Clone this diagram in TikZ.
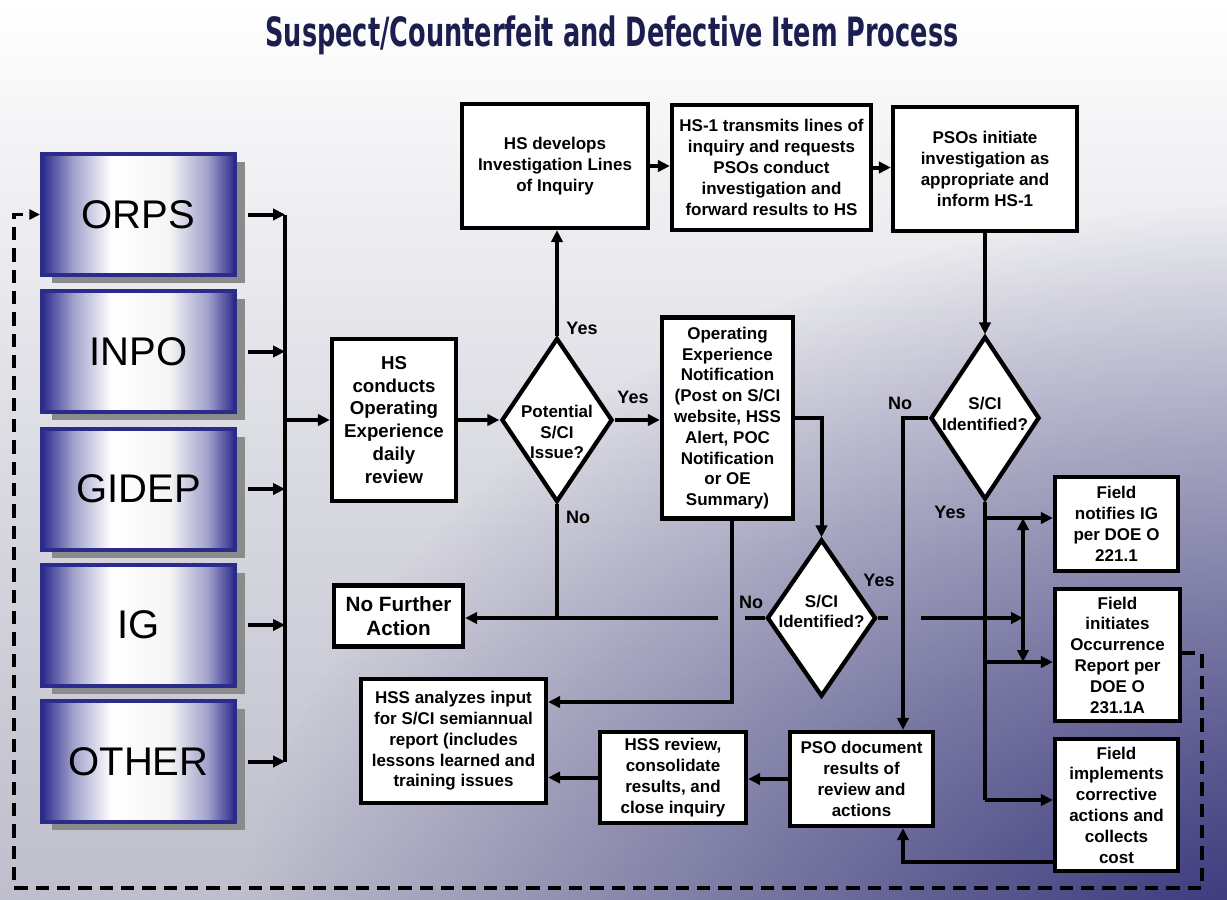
\documentclass[tikz,border=0pt]{standalone}
\usepackage{fontspec}
\usepackage{graphicx}
\setmainfont{Liberation Sans}
\newfontfamily\titlefamily{DejaVu Sans}
\usetikzlibrary{shapes.geometric,arrows.meta,shadows,fadings}

\definecolor{titlenavy}{HTML}{1B1E4F}
\definecolor{srcnavy}{HTML}{2B2B8C}
\definecolor{bgnavy}{HTML}{2A2872}
\definecolor{bggray}{HTML}{BEBECC}
\definecolor{shadowgray}{HTML}{8A8C8C}

\newcommand{\boxfont}{\fontsize{12.75}{15.6}\selectfont\bfseries}
\newcommand{\srcfont}{\fontsize{30}{36}\selectfont}
\newcommand{\tagfont}{\fontsize{13.5}{16}\selectfont\bfseries}

\tikzfading[name=cornerfade, inner color=transparent!0, outer color=transparent!100]
\pgfdeclarehorizontalshading{srcshade}{100bp}{color(0bp)=(srcnavy); color(25bp)=(srcnavy);
  color(33bp)=(srcnavy!45!white); color(43bp)=(white); color(58bp)=(white!92!gray);
  color(68bp)=(srcnavy!45!white); color(75bp)=(srcnavy); color(100bp)=(srcnavy)}

\tikzset{
  stepbox/.style={draw, line width=3.2pt, fill=white, align=center, font=\boxfont, inner sep=1pt},
  decision/.style={diamond, draw, line width=3.2pt, fill=white, inner sep=0pt},
  decisiontext/.style={font=\boxfont, align=center, inner sep=0pt},
  srcbox/.style={draw=srcnavy, line width=3pt, shading=srcshade,
    minimum width=144.75pt, minimum height=90.75pt, font=\srcfont,
    drop shadow={shadow xshift=7.5pt, shadow yshift=-6pt, fill=shadowgray, opacity=1}},
  flow/.style={line width=3pt, -{Triangle[length=9pt,width=8.5pt]}},
  wire/.style={line width=3pt},
  twoway/.style={line width=3pt, {Triangle[length=9pt,width=8.5pt]}-{Triangle[length=9pt,width=8.5pt]}},
  feedback/.style={line width=2.8pt, dash pattern=on 10pt off 6pt, -{Triangle[length=8pt,width=7.5pt]}},
  yesno/.style={font=\tagfont, inner sep=0pt},
}

\begin{document}
\begin{tikzpicture}[x=0.75pt,y=-0.75pt]
  \useasboundingbox (0,0) rectangle (1227,899);
  % background
  \shade[top color=white, bottom color=bggray, middle color=bggray!55!white] (0,0) rectangle (1227,899);
  \begin{scope}
    \clip (0,0) rectangle (1227,899);
    \fill[bgnavy, path fading=cornerfade] (1300,1000) ellipse[x radius=800pt, y radius=600pt];
  \end{scope}

  \node[text=titlenavy, anchor=base] (title) at (612,47)
    {\resizebox{519.75pt}{23pt}{\titlefamily\bfseries Suspect/Counterfeit and Defective Item Process}};

  % sources
  \node[srcbox] (orps) at (138.5,214.5) {ORPS};
  \node[srcbox] (inpo) at (138.5,351.5) {INPO};
  \node[srcbox] (gidep) at (138.5,489) {GIDEP};
  \node[srcbox] (ig) at (138.5,625) {IG};
  \node[srcbox] (other) at (138.5,761.5) {OTHER};
  \coordinate (bustop) at (285,214.5);
  \coordinate (busbot) at (285,761.5);

  % process steps
  \node[stepbox, minimum width=93pt, minimum height=121.5pt, font=\fontsize{14}{17.2}\selectfont\bfseries]
    (review) at (394,420) {HS\\conducts\\Operating\\Experience\\daily\\review};
  \node[decision, minimum width=83.25pt, minimum height=123pt] (issue) at (557,420) {};
  \node[decisiontext] (issue-text) at (557,432) {Potential\\S/CI\\Issue?};
  \node[stepbox, minimum width=139.5pt, minimum height=93pt] (lines) at (555,166)
    {HS develops\\Investigation Lines\\of Inquiry};
  \node[stepbox, minimum width=149.25pt, minimum height=93.75pt] (transmit) at (771.5,167.5)
    {HS-1 transmits lines of\\inquiry and requests\\PSOs conduct\\investigation and\\forward results to HS};
  \node[stepbox, minimum width=138pt, minimum height=93pt] (initiate) at (985,169)
    {PSOs initiate\\investigation as\\appropriate and\\inform HS-1};
  \node[decision, minimum width=81.75pt, minimum height=122.25pt] (identtop) at (985,418) {};
  \node[decisiontext] (identtop-text) at (985,414) {S/CI\\Identified?};
  \node[stepbox, minimum width=98.25pt, minimum height=150.75pt] (notice) at (727.5,418)
    {Operating\\Experience\\Notification\\(Post on S/CI\\website, HSS\\Alert, POC\\Notification\\or OE\\Summary)};
  \node[decision, minimum width=81.75pt, minimum height=117.75pt] (identlow) at (821.5,618) {};
  \node[decisiontext] (identlow-text) at (821.5,611.5) {S/CI\\Identified?};
  \node[stepbox, minimum width=96.75pt, minimum height=45.75pt, font=\fontsize{15.5}{18.5}\selectfont\bfseries]
    (nofurther) at (398.5,616) {No Further\\Action};
  \node[stepbox, minimum width=138.75pt, minimum height=93pt] (analyze) at (453.5,741)
    {HSS analyzes input\\for S/CI semiannual\\report (includes\\lessons learned and\\training issues};
  \node[stepbox, minimum width=109.5pt, minimum height=68.25pt] (consolidate) at (673,777.5)
    {HSS review,\\consolidate\\results, and\\close inquiry};
  \node[stepbox, minimum width=107.25pt, minimum height=70.5pt] (document) at (861.5,779)
    {PSO document\\results of\\review and\\actions};
  \node[stepbox, minimum width=92.25pt, minimum height=70.5pt] (notifyig) at (1116.5,524)
    {Field\\notifies IG\\per DOE O\\221.1};
  \node[stepbox, minimum width=93.75pt, minimum height=99pt] (occurrence) at (1117.5,655)
    {Field\\initiates\\Occurrence\\Report per\\DOE O\\231.1A};
  \node[stepbox, minimum width=92.25pt, minimum height=99pt] (corrective) at (1116.5,805)
    {Field\\implements\\corrective\\actions and\\collects\\cost};

  % yes / no
  \node[yesno] (yes-up) at (582,328) {Yes};
  \node[yesno] (yes-right) at (633,397) {Yes};
  \node[yesno] (no-down) at (578,517) {No};
  \node[yesno] (no-top) at (900,403) {No};
  \node[yesno] (yes-top) at (950,512) {Yes};
  \node[yesno] (yes-low) at (879,580) {Yes};
  \node[yesno] (no-low) at (751,602) {No};

  % connectors
  \draw[flow] ([xshift=8.25pt]orps.east) -- (orps.east -| bustop);
  \draw[flow] ([xshift=8.25pt]inpo.east) -- (inpo.east -| bustop);
  \draw[flow] ([xshift=8.25pt]gidep.east) -- (gidep.east -| bustop);
  \draw[flow] ([xshift=8.25pt]ig.east) -- (ig.east -| bustop);
  \draw[flow] ([xshift=8.25pt]other.east) -- (other.east -| bustop);
  \draw[wire] (bustop) -- (busbot);
  \draw[flow] (bustop |- review.west) -- (review.west);
  \draw[flow] (review.east) -- (review.east -| issue.west);
  \draw[flow] (issue.north) -- (issue.north |- lines.south);
  \draw[flow] (lines.east) -- (lines.east -| transmit.west);
  \draw[flow] (transmit.east) -- (transmit.east -| initiate.west);
  \draw[flow] (initiate.south) -- (identtop.north);
  \draw[flow] (issue.east) -- (issue.east -| notice.west);
  \draw[wire] (issue.south) -- (issue.south |- identlow.west);
  \draw[wire] (identlow.west) -- (745,618);
  \draw[flow] (718,618) -- (nofurther.east |- identlow.west);
  \draw[flow] (notice.east) -| (identlow.north);
  \draw[flow] ([xshift=3pt]notice.south) |- (analyze.east |- 0,702);
  \draw[wire] (identlow.east) -- (888,618);
  \draw[flow] (921,618) -- (1023,618);
  \draw[flow] (identtop.west) -| (903,0 |- document.north);
  \draw[wire] (identtop.south) -- (identtop.south |- 0,800);
  \draw[flow] (identtop.south |- 0,518) -- (notifyig.west |- 0,518);
  \draw[flow] (identtop.south |- 0,662) -- (occurrence.west |- 0,662);
  \draw[flow] (identtop.south |- 0,800) -- (corrective.west |- 0,800);
  \draw[twoway] (1023,518) -- (1023,662);
  \draw[flow] (corrective.west |- 0,862) -| (903,0 |- document.south);
  \draw[flow] (document.west) -- (document.west -| consolidate.east);
  \draw[flow] (consolidate.west) -- (consolidate.west -| analyze.east);
  \draw[feedback] (occurrence.east |- 0,653) -- (1202,653) -- (1202,888) -- (14,888)
    -- (14,0 |- orps.west) -- (orps.west);
\end{tikzpicture}
\end{document}
